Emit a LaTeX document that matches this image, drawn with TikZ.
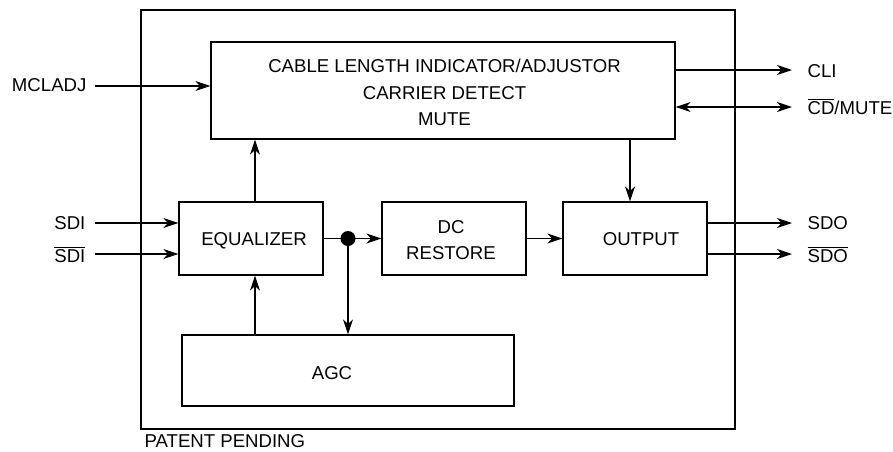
\documentclass[tikz,border=0pt]{standalone}
\usepackage{fontspec}
\setmainfont{Liberation Sans}
\usetikzlibrary{arrows.meta}
\newcommand{\ovl}[1]{$\overline{\mbox{#1}}$}
\begin{document}
\begin{tikzpicture}[x=1pt,y=-1pt,line width=1.2pt,
  box/.style={draw,line width=1.2pt,inner sep=0pt},
  arr/.style={-{Stealth[length=15pt,width=10pt,inset=4.5pt]}},
  darr/.style={{Stealth[length=15pt,width=10pt,inset=4.5pt]}-{Stealth[length=15pt,width=10pt,inset=4.5pt]}},
  lbl/.style={font=\fontsize{18.6}{26.7}\selectfont,inner sep=0pt,anchor=base},
  lblw/.style={lbl,anchor=base west},
  lble/.style={lbl,anchor=base east}]
\useasboundingbox (0,0) rectangle (893,451);
% boxes
\node[box,minimum width=594pt,minimum height=419pt] (outer) at (438,219.5) {};
\node[box,minimum width=464pt,minimum height=97pt] (cli) at (443,90.5) {};
\node[box,minimum width=144pt,minimum height=73pt] (eq) at (251,238.5) {};
\node[box,minimum width=144pt,minimum height=73pt] (dc) at (454,238.5) {};
\node[box,minimum width=144pt,minimum height=73pt] (out) at (635,238.5) {};
\node[box,minimum width=332pt,minimum height=71pt] (agc) at (348,370.5) {};
\node[circle,fill=black,inner sep=0pt,minimum size=15pt] (dot) at (348,238.5) {};
% texts
\node[lbl] (t1) at (444.5,72) {CABLE LENGTH INDICATOR/ADJUSTOR};
\node[lbl] (t2) at (444.5,99) {CARRIER DETECT};
\node[lbl] (t3) at (444.5,125.5) {MUTE};
\node[lbl] (teq) at (254,245.3) {EQUALIZER};
\node[lbl] (tdc) at (451,233) {DC};
\node[lbl] (tdc2) at (451,259) {RESTORE};
\node[lbl] (tout) at (641,245) {OUTPUT};
\node[lbl] (tagc) at (332,379) {AGC};
\node[lble] (tmcl) at (87,91) {MCLADJ};
\node[lble] (tsdi) at (86,229) {SDI};
\node[lble] (tsdib) at (86,262) {\ovl{SDI}};
\node[lblw] (tcli) at (807,77) {CLI};
\node[lblw] (tcd) at (807,114) {\ovl{CD}/MUTE};
\node[lblw] (tsdo) at (807,229) {SDO};
\node[lblw] (tsdob) at (807,262) {\ovl{SDO}};
\node[lblw] (tpat) at (144,447.5) {PATENT PENDING};
% coordinates
\coordinate (mclin) at (95,86);
\coordinate (cliA) at (792,70);
\coordinate (cdA) at (792,107);
\coordinate (sdiA) at (95,223);
\coordinate (sdiB) at (95,254);
\coordinate (sdoA) at (792,223);
\coordinate (sdoB) at (792,254);
\coordinate (colA) at (255,0);
\coordinate (colB) at (630,0);
% connectors
\draw[arr] (mclin) -- (mclin -| cli.west);
\draw[arr] (cliA -| cli.east) -- (cliA);
\draw[darr] (cdA -| cli.east) -- (cdA);
\draw[arr] (sdiA) -- (sdiA -| eq.west);
\draw[arr] (sdiB) -- (sdiB -| eq.west);
\draw[arr] (colA |- eq.north) -- (colA |- cli.south);
\draw[arr] (colA |- agc.north) -- (colA |- eq.south);
\draw (eq.east |- dot.center) -- (dot.center);
\draw[arr] (dot.center) -- (dot.center -| dc.west);
\draw[arr] (dot.center) -- (dot.center |- agc.north);
\draw[arr] (dc.east) -- (out.west);
\draw[arr] (colB |- cli.south) -- (colB |- out.north);
\draw[arr] (sdoA -| out.east) -- (sdoA);
\draw[arr] (sdoB -| out.east) -- (sdoB);
\end{tikzpicture}
\end{document}
